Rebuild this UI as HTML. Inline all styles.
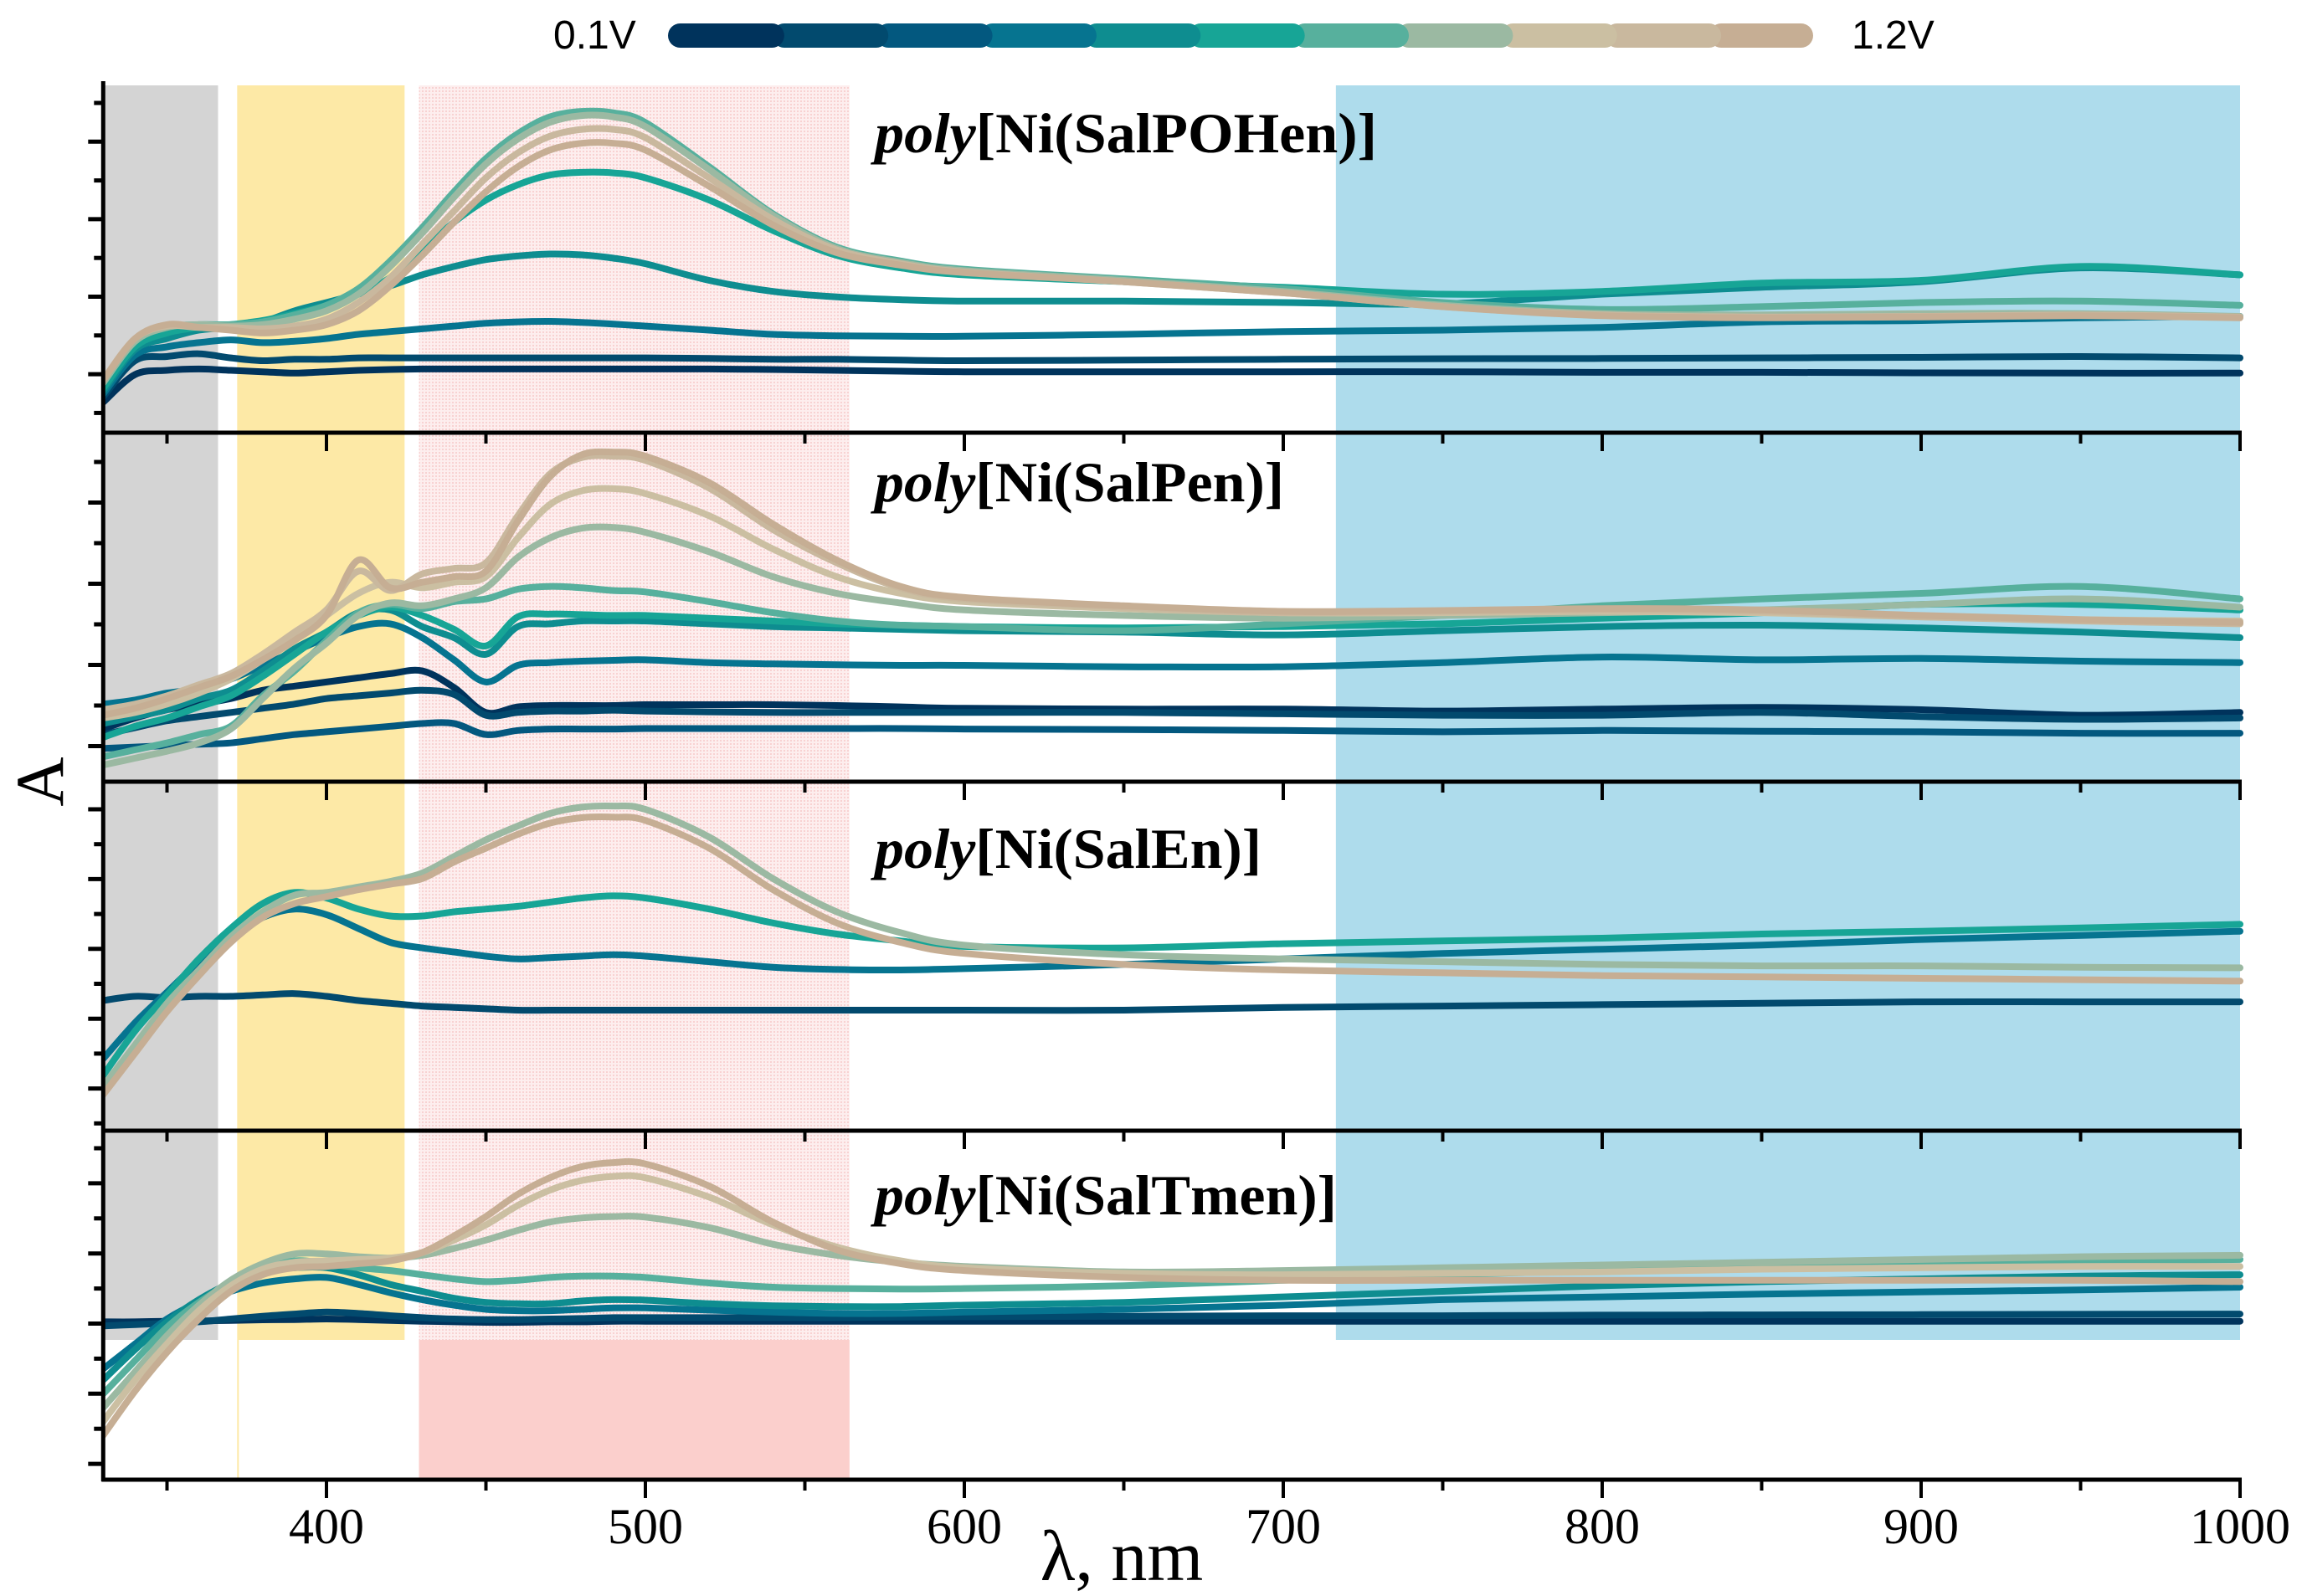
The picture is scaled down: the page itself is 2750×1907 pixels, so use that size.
<!DOCTYPE html>
<html><head><meta charset="utf-8"><style>
html,body{margin:0;padding:0;background:#fff}
svg{display:block}
</style></head><body>
<svg id="chart" xmlns="http://www.w3.org/2000/svg" width="2750" height="1907" viewBox="0 0 2750 1907">
<defs>
<pattern id="pinkdots" width="4" height="4" patternUnits="userSpaceOnUse">
<rect width="4" height="4" fill="#fdeeee"/><rect width="2" height="2" fill="#f8d2d2"/>
</pattern>
<clipPath id="plotclip"><rect x="124" y="100" width="2560" height="1668"/></clipPath>
</defs>
<g id="bands"></g>
<g id="series" clip-path="url(#plotclip)"></g>
<g id="axes"></g>
<g id="colorbar"></g>
<text x="661" y="58" font-family="Liberation Sans, sans-serif" font-size="48" fill="#000">0.1V</text>
<text x="2212" y="58" font-family="Liberation Sans, sans-serif" font-size="48" fill="#000">1.2V</text>
<text x="0" y="0" transform="translate(75,934) rotate(-90)" text-anchor="middle" font-family="Liberation Serif, serif" font-size="82" fill="#000">A</text>
<text x="1340" y="1888" text-anchor="middle" font-family="Liberation Serif, DejaVu Serif, serif" font-size="86" fill="#000">λ, nm</text>
</svg>
<script>
const wl = [330,340,350,360,370,380,390,400,410,420,430,440,450,460,470,480,490,500,520,540,560,580,600,650,700,750,800,850,900,950,1000];
const palette = ['#00335c','#024a6e','#03587f','#067490','#0e8d90','#17a596','#57b09d','#9bb9a2','#cbbfa2','#c9b89e','#c6ae94'];
const xTicks = [400,500,600,700,800,900,1000];
const xTickLabels = ['400','500','600','700','800','900','1000'];
const panelTitles = ['SalPOHen','SalPen','SalEn','SalTmen'];

const p1Colors = [0,1,3,4,5,6,7,9,10];
const p1c0 = [110,210,225,230,225,220,215,220,225,228,230,230,230,230,230,230,230,230,230,228,225,222,220,220,220,220,218,218,216,215,215];
const p1c1 = [130,260,275,285,270,260,265,265,270,270,270,270,270,270,270,270,270,270,268,265,265,262,260,262,265,267,268,270,272,275,270];
const p1c2 = [140,280,310,325,335,325,330,340,355,365,375,385,395,400,402,398,392,385,370,355,350,348,348,355,365,370,380,400,405,415,420];
const p1c3 = [150,300,340,370,380,400,440,470,500,530,570,600,625,638,645,642,630,610,550,510,490,480,475,475,470,465,500,525,545,595,570];
const p1c4 = [160,310,360,380,390,405,430,460,500,560,660,760,840,895,930,940,938,920,840,730,640,595,570,545,525,500,510,540,550,600,570];
const p1c5 = [180,330,380,390,390,400,425,460,520,620,740,870,990,1080,1140,1160,1155,1120,960,790,670,620,590,555,520,470,445,455,470,475,460];
const p1c6 = [180,330,380,390,385,390,410,440,500,600,720,850,970,1060,1120,1145,1140,1105,950,785,665,615,585,550,510,460,430,425,430,430,420];
const p1c7 = [190,340,385,380,380,375,385,410,470,560,680,800,920,1010,1070,1095,1095,1065,920,770,660,610,580,545,505,455,425,418,420,425,418];
const p1c8 = [190,340,390,380,370,360,370,390,440,530,640,760,870,960,1020,1045,1045,1020,890,750,650,605,578,545,505,455,422,415,418,422,415];

const p2Colors = [0,1,2,3,4,5,6,7,8,9,10];
const p2c0 = [190,230,260,280,300,330,345,360,375,390,400,340,250,270,275,275,275,278,278,278,275,270,265,262,262,255,262,268,260,240,250];
const p2c1 = [170,195,220,235,250,265,280,300,310,320,330,315,240,250,255,255,258,255,252,250,250,250,250,250,245,240,240,250,235,225,230];
const p2c2 = [120,125,130,135,140,155,170,180,190,200,210,210,170,185,190,190,190,192,192,192,192,192,190,188,185,180,185,182,180,175,175];
const p2c3 = [280,295,320,335,370,420,470,520,560,570,520,440,360,420,430,435,438,440,430,425,422,420,420,415,415,430,450,440,445,435,430];
const p2c4 = [210,235,260,300,330,400,480,540,610,620,560,520,460,560,570,580,580,580,570,560,555,550,545,540,530,545,560,565,555,540,520];
const p2c5 = [160,200,230,270,310,380,460,540,600,630,600,550,490,595,605,603,600,600,590,580,570,565,560,555,560,570,590,610,640,640,620];
const p2c6 = [90,115,140,170,200,310,400,510,610,640,625,650,660,695,705,700,690,685,650,610,580,565,560,545,570,600,635,660,680,705,660];
const p2c7 = [60,85,110,140,190,300,410,500,600,645,635,660,700,810,880,915,918,900,830,740,680,645,620,600,590,600,610,620,640,660,630];
const p2c8 = [230,250,280,320,370,440,520,600,680,720,700,720,740,880,1000,1050,1058,1040,960,840,740,680,650,625,610,610,615,610,595,585,580];
const p2c9 = [260,280,310,350,390,460,540,620,760,690,750,770,790,960,1110,1170,1175,1160,1060,910,790,700,660,630,610,615,620,615,595,580,570];
const p2c10 = [240,265,300,340,380,440,510,600,800,700,720,740,760,940,1100,1180,1190,1175,1080,930,800,705,665,635,615,618,625,620,600,585,575];

const p3Colors = [1,3,5,7,10];
const p3c0 = [470,485,480,485,485,490,495,485,470,460,450,445,440,435,435,435,435,435,435,435,435,435,435,435,445,450,455,460,465,465,465];
const p3c1 = [260,390,500,610,700,770,800,780,730,680,660,645,630,620,625,630,635,630,610,590,582,580,585,600,620,640,655,670,690,705,720];
const p3c2 = [200,360,490,620,730,820,860,840,800,775,775,790,800,810,825,840,848,840,800,750,710,685,665,660,675,685,695,710,720,732,745];
const p3c3 = [160,310,460,580,700,790,850,860,880,900,930,990,1050,1100,1145,1168,1172,1160,1060,910,790,715,670,635,620,610,600,595,595,590,588];
const p3c4 = [130,280,430,560,680,770,820,845,870,890,910,970,1020,1070,1110,1130,1132,1120,1020,870,750,680,640,600,580,570,560,555,550,545,540];

const p4Colors = [0,1,3,4,6,7,8,10];
const p4c0 = [570,570,572,573,575,577,578,580,578,575,572,570,568,568,570,570,572,572,572,572,572,572,572,572,572,572,572,572,572,572,572];
const p4c1 = [555,560,565,570,580,590,598,605,600,592,585,580,578,578,580,582,585,585,585,585,585,587,588,590,592,592,594,595,596,597,598];
const p4c2 = [400,490,580,640,680,710,725,730,705,675,650,630,615,610,610,615,620,620,612,605,600,600,605,615,630,650,660,670,678,685,695];
const p4c3 = [360,470,570,650,710,750,765,765,740,705,680,655,640,635,635,645,650,648,635,628,625,625,630,640,660,680,700,715,725,735,740];
const p4c4 = [310,430,550,640,710,760,790,780,765,755,740,725,715,720,730,735,735,730,710,695,690,688,690,700,720,740,755,765,775,788,795];
const p4c5 = [260,390,520,630,720,780,815,815,805,800,810,835,865,900,930,945,950,948,910,850,810,785,770,750,755,765,775,785,795,805,810];
const p4c6 = [210,360,490,610,700,760,785,790,795,800,820,865,920,990,1045,1080,1095,1090,1020,920,840,790,765,745,740,745,750,760,765,770,770];
const p4c7 = [160,320,460,580,680,740,765,770,780,790,820,880,950,1030,1090,1130,1145,1140,1060,930,830,780,755,730,720,720,720,720,720,720,715];

const bandStart = [330,372,429,716.5];
const bandEnd = [366,424.5,564,1000];

const NS = 'http://www.w3.org/2000/svg';
const X0 = 390, XS = 3.81;
function xs(l){ return X0 + (l-400)*XS; }
const panelTop = [100,517,934,1351];
const PH = 417, VMAX = 1260;
function ys(p,v){ return panelTop[p] + (VMAX - v)/VMAX*PH; }
function mk(tag, attrs, parent){ const e=document.createElementNS(NS,tag); for(const k in attrs) e.setAttribute(k,attrs[k]); parent.appendChild(e); return e; }

const bands = document.getElementById('bands');
const bandColors = ['#d4d4d4','#fde9a6','url(#pinkdots)','#aedcec'];
const bandNames = ['uv-band-grey','band-yellow','band-pink-pattern','nir-band-blue'];
for(let i=0;i<4;i++){
  const r = mk('rect',{x:xs(bandStart[i]),y:102,width:xs(bandEnd[i])-xs(bandStart[i]),height:1601-102,fill:bandColors[i]},bands);
  
  
}
const pinkSolid = mk('rect',{x:xs(bandStart[2]),y:1601,width:xs(bandEnd[2])-xs(bandStart[2]),height:1768-1601,fill:'#fbcfcc'},bands);


const yline = mk('rect',{x:xs(bandStart[1]),y:1601,width:2,height:167,fill:'#fde9a6'},bands);



const panels = [
  {colors:p1Colors, data:[p1c0,p1c1,p1c2,p1c3,p1c4,p1c5,p1c6,p1c7,p1c8]},
  {colors:p2Colors, data:[p2c0,p2c1,p2c2,p2c3,p2c4,p2c5,p2c6,p2c7,p2c8,p2c9,p2c10]},
  {colors:p3Colors, data:[p3c0,p3c1,p3c2,p3c3,p3c4]},
  {colors:p4Colors, data:[p4c0,p4c1,p4c2,p4c3,p4c4,p4c5,p4c6,p4c7]}
];
function smoothPath(pts){
  let d = 'M'+pts[0][0].toFixed(1)+','+pts[0][1].toFixed(1);
  for(let i=0;i<pts.length-1;i++){
    const p0=pts[Math.max(0,i-1)],p1=pts[i],p2=pts[i+1],p3=pts[Math.min(pts.length-1,i+2)];
    const c1x=p1[0]+(p2[0]-p0[0])/6, c1y=p1[1]+(p2[1]-p0[1])/6;
    const c2x=p2[0]-(p3[0]-p1[0])/6, c2y=p2[1]-(p3[1]-p1[1])/6;
    d+=' C'+c1x.toFixed(1)+','+c1y.toFixed(1)+' '+c2x.toFixed(1)+','+c2y.toFixed(1)+' '+p2[0].toFixed(1)+','+p2[1].toFixed(1);
  }
  return d;
}
const sg = document.getElementById('series');
panels.forEach((pn,pi)=>{
  pn.data.forEach((arr,si)=>{
    const pts = arr.map((v,k)=>[xs(wl[k]), ys(pi,v)]);
    const path = mk('path',{d:smoothPath(pts),fill:'none',stroke:palette[pn.colors[si]],'stroke-width':8,'stroke-linejoin':'round','stroke-linecap':'round'},sg);
    
    
  });
});

const ax = document.getElementById('axes');
const xL = xs(330), xR = xs(1000);
const leftAxis = mk('line',{x1:xL,y1:97,x2:xL,y2:1770,stroke:'#000','stroke-width':5},ax);


for(let p=0;p<4;p++){
  const yb = panelTop[p]+PH;
  const ln = mk('line',{x1:xL-2,y1:yb,x2:xR+2,y2:yb,stroke:'#000','stroke-width':5},ax);
  
  
  for(let l=350;l<=1000;l+=50){
    const major = l%100===0;
    const t = mk('line',{x1:xs(l),y1:yb,x2:xs(l),y2:yb+(major?22:13),stroke:'#000','stroke-width':4},ax);
    
    
  }
}
xTicks.forEach((l,i)=>{
  const t = mk('text',{x:xs(l),y:1844,'text-anchor':'middle','font-family':'Liberation Serif, serif','font-size':60,fill:'#000'},ax);
  t.textContent = xTickLabels[i];
  
  
});
const yTickStart = [123,552,967,1372];
const yTickStep = [46.3,48.5,41.7,41.9];
const yTickMajorFirst = [false,false,true,false];
for(let p=0;p<4;p++){
  let k=0;
  for(let y=yTickStart[p]; y<panelTop[p]+PH-4; y+=yTickStep[p], k++){
    const major = (k%2===0)===yTickMajorFirst[p];
    const t = mk('line',{x1:xL-(major?18:11),y1:y,x2:xL,y2:y,stroke:'#000','stroke-width':5},ax);
    
    
  }
}
const titleBase = [182,599,1037,1451];
const titleLen = [600,489,462,552];
panelTitles.forEach((nm,i)=>{
  const t = mk('text',{x:1045,y:titleBase[i],'font-family':'Liberation Serif, serif','font-size':68,'font-weight':'bold',fill:'#000',textLength:titleLen[i],lengthAdjust:'spacingAndGlyphs'},ax);
  const s1 = mk('tspan',{'font-style':'italic'},t); s1.textContent='poly';
  const s2 = mk('tspan',{},t); s2.textContent='[Ni('+nm+')]';
  
  
});

const cb = document.getElementById('colorbar');
const cbX0 = 798, cbX1 = 2166, cbY = 28, cbH = 29;
const segW = (cbX1-cbX0)/palette.length;
for(let i=palette.length-1;i>=0;i--){
  const r = mk('rect',{x:cbX0+i*segW,y:cbY,width:segW+(i<palette.length-1?cbH/2:0),height:cbH,rx:cbH/2,ry:cbH/2,fill:palette[i]},cb);
  
  
}
</script>
</body></html>
